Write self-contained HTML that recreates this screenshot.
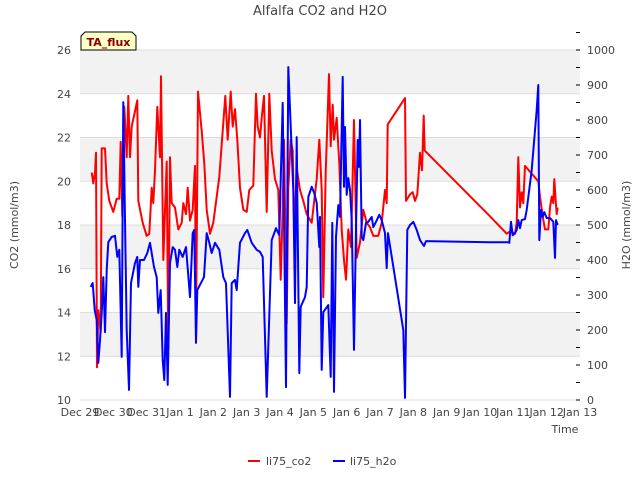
<!DOCTYPE html>
<html><head><meta charset="utf-8"><style>
body{margin:0;background:#fff;font-family:"Liberation Sans","DejaVu Sans",sans-serif}
svg text{font-family:"DejaVu Sans","Liberation Sans",sans-serif}
</style></head><body>
<svg id="c" width="640" height="480" xmlns="http://www.w3.org/2000/svg">
<text x="320" y="15" text-anchor="middle" font-size="13" fill="#444">Alfalfa CO2 and H2O</text>
<g id="bands"></g><g id="axes"></g><g id="series"></g>
<g>
<path d="M81,50 L81,36 L85,32 L132,32 L136,36 L136,50 Z" fill="#ffffc8" stroke="#000" stroke-width="1"/>
<text x="108.5" y="46" text-anchor="middle" font-size="11" font-weight="bold" fill="#8b0000">TA_flux</text></g>
<text x="565" y="433" text-anchor="middle" font-size="11" fill="#444">Time</text>
<text transform="translate(18,225) rotate(-90)" text-anchor="middle" font-size="11" fill="#444">CO2 (mmol/m3)</text>
<text transform="translate(630,225) rotate(-90)" text-anchor="middle" font-size="11" fill="#444">H2O (mmol/m3)</text>
<g><line x1="248" y1="461" x2="260" y2="461" stroke="#f00" stroke-width="2"/><text x="266" y="465" font-size="11" fill="#444">li75_co2</text></g>
<g><line x1="333" y1="461" x2="345" y2="461" stroke="#00f" stroke-width="2"/><text x="350" y="465" font-size="11" fill="#444">li75_h2o</text></g>
</svg>
<script>
const xTickLabels=["Dec 29","Dec 30","Dec 31","Jan 1","Jan 2","Jan 3","Jan 4","Jan 5","Jan 6","Jan 7","Jan 8","Jan 9","Jan 10","Jan 11","Jan 12","Jan 13"];
const leftTicks=[10,12,14,16,18,20,22,24,26];
const rightTicks=[0,100,200,300,400,500,600,700,800,900,1000];
const co2Days=[0.35,0.40,0.45,0.48,0.51,0.55,0.62,0.65,0.75,0.80,0.88,1.00,1.10,1.18,1.22,1.27,1.33,1.40,1.45,1.50,1.55,1.72,1.75,1.88,2.00,2.08,2.15,2.20,2.25,2.32,2.40,2.43,2.50,2.60,2.65,2.70,2.75,2.85,2.95,3.05,3.10,3.18,3.23,3.30,3.38,3.45,3.48,3.54,3.65,3.73,3.80,3.90,4.00,4.10,4.18,4.28,4.36,4.43,4.52,4.58,4.65,4.72,4.80,4.90,5.00,5.08,5.20,5.28,5.33,5.40,5.45,5.52,5.60,5.68,5.75,5.85,5.95,6.02,6.08,6.12,6.20,6.25,6.32,6.38,6.43,6.50,6.60,6.70,6.80,6.95,7.10,7.18,7.25,7.30,7.37,7.47,7.52,7.58,7.62,7.70,7.78,7.85,7.92,7.98,8.05,8.13,8.22,8.30,8.40,8.50,8.60,8.70,8.80,8.95,9.05,9.15,9.20,9.23,9.75,9.78,9.90,9.98,10.05,10.12,10.20,10.26,10.31,10.34,12.30,12.80,12.90,13.05,13.10,13.15,13.20,13.25,13.30,13.35,13.75,13.80,13.88,13.95,14.05,14.10,14.15,14.20,14.23,14.27,14.30,14.33];
const co2Values=[20.4,19.9,20.4,21.3,11.5,14.1,13.1,21.5,21.5,19.9,19.1,18.6,19.2,19.2,21.8,18.4,23.4,21.1,23.9,21.1,22.5,23.7,19.1,18.1,17.5,17.6,19.7,19.0,20.5,23.4,21.1,24.8,16.4,20.9,12.3,21.1,19.0,18.8,17.8,18.1,19.0,18.5,19.7,18.2,18.7,20.7,13.2,24.1,22.3,20.8,18.7,17.6,18.1,19.3,20.2,22.3,23.9,21.9,24.1,22.5,23.3,21.9,19.7,18.7,18.6,19.6,19.8,24.0,22.5,22.0,22.9,23.9,18.6,24.0,21.4,20.1,19.6,15.5,18.7,21.9,13.5,19.7,21.9,21.4,17.5,20.6,19.6,19.1,18.5,18.1,20.1,21.9,19.6,14.7,20.4,24.9,21.6,23.5,21.9,22.9,20.8,17.8,16.4,15.5,17.8,17.0,22.8,16.5,17.2,18.7,18.1,17.9,17.5,17.5,18.1,19.6,19.0,22.6,23.8,19.1,19.4,19.5,19.1,19.4,21.3,20.5,23.0,21.4,18.4,17.6,17.7,17.6,18.1,21.1,18.8,19.5,19.0,20.7,20.0,19.3,18.4,17.8,17.8,18.8,19.3,19.0,20.1,19.1,18.5,18.8];
const h2oDays=[0.32,0.38,0.44,0.50,0.55,0.60,0.65,0.70,0.75,0.80,0.85,0.95,1.05,1.12,1.18,1.25,1.30,1.35,1.40,1.47,1.53,1.65,1.72,1.75,1.80,1.92,2.02,2.10,2.22,2.30,2.35,2.42,2.48,2.53,2.58,2.63,2.70,2.78,2.85,2.92,2.98,3.08,3.18,3.30,3.38,3.43,3.48,3.52,3.72,3.80,3.88,3.95,4.05,4.18,4.30,4.38,4.50,4.55,4.65,4.70,4.80,4.95,5.02,5.15,5.30,5.40,5.48,5.60,5.75,5.88,5.98,6.08,6.18,6.25,6.40,6.45,6.50,6.58,6.62,6.75,6.80,6.85,6.95,7.03,7.10,7.18,7.20,7.25,7.30,7.45,7.52,7.57,7.62,7.68,7.75,7.80,7.88,7.92,7.95,8.00,8.05,8.10,8.15,8.22,8.28,8.33,8.37,8.40,8.45,8.50,8.58,8.65,8.75,8.80,8.88,8.98,9.05,9.15,9.20,9.24,9.70,9.75,9.82,9.90,10.00,10.10,10.20,10.32,10.38,12.30,12.85,12.88,12.93,12.98,13.05,13.10,13.15,13.20,13.25,13.35,13.40,13.55,13.70,13.75,13.78,13.83,13.88,13.93,14.00,14.10,14.20,14.25,14.28,14.33];
const h2oValues=[323,334,257,229,106,171,249,351,194,371,451,466,469,409,429,123,851,514,200,29,334,391,409,323,400,400,420,449,380,351,249,314,114,57,249,43,391,437,429,380,429,409,437,294,477,486,163,314,351,477,449,420,449,429,351,334,9,334,343,314,449,477,486,449,429,423,409,9,457,491,471,849,37,951,600,277,751,77,266,294,323,580,609,591,563,437,523,86,251,271,66,506,23,466,557,523,923,609,780,586,634,600,514,143,486,743,666,800,466,457,506,509,523,494,509,529,514,477,377,477,200,6,486,500,509,486,457,440,454,451,451,449,509,471,477,486,514,491,514,517,543,657,829,900,457,543,523,537,520,520,509,406,514,500];
const NS="http://www.w3.org/2000/svg";
const L=80,R=580,T=50,B=400;
const xs=d=>L+d*(R-L)/15;
const yL=v=>B-(v-10)*(B-T)/16;
const yR=v=>B-v*(B-T)/1000;
function mk(tag,at,parent,txt){const e=document.createElementNS(NS,tag);for(const k in at)e.setAttribute(k,at[k]);if(txt!==undefined)e.textContent=txt;document.getElementById(parent).appendChild(e);return e;}
for(let i=0;i<leftTicks.length-1;i++){
  if(i%2===1){const r=mk('rect',{x:L,y:yL(leftTicks[i+1]),width:R-L,height:yL(leftTicks[i])-yL(leftTicks[i+1]),fill:'#f2f2f2'},'bands');
  
  }
}
leftTicks.forEach(v=>{
  const g=mk('line',{x1:L,x2:R,y1:yL(v),y2:yL(v),stroke:'#ddd','stroke-width':1},'axes');
  
  
  const t=mk('text',{x:L-9,y:yL(v)+4,'text-anchor':'end','font-size':11,fill:'#444'},'axes',v);
  
  
});
rightTicks.forEach(v=>{
  mk('line',{x1:R,x2:R-4,y1:yR(v),y2:yR(v),stroke:'#000'},'axes');
  mk('line',{x1:R,x2:R-4,y1:yR(v+50),y2:yR(v+50),stroke:'#000'},'axes');
  const t=mk('text',{x:R+7,y:yR(v)+4,'font-size':11,fill:'#444'},'axes',v);
  
  
});
xTickLabels.forEach((s,i)=>{
  const t=mk('text',{x:xs(i),y:416,'text-anchor':'middle','font-size':11,fill:'#444'},'axes',s);
  
  
});
function line(days,vals,yf,col,name){
  const p=days.map((d,i)=>xs(d).toFixed(1)+','+yf(vals[i]).toFixed(1)).join(' ');
  const e=mk('polyline',{points:p,fill:'none',stroke:col,'stroke-width':2,'stroke-linejoin':'round'},'series');
  
  
}
line(co2Days,co2Values,yL,'#f00','co2-line');
line(h2oDays,h2oValues,yR,'#00f','h2o-line');
</script>
</body></html>
